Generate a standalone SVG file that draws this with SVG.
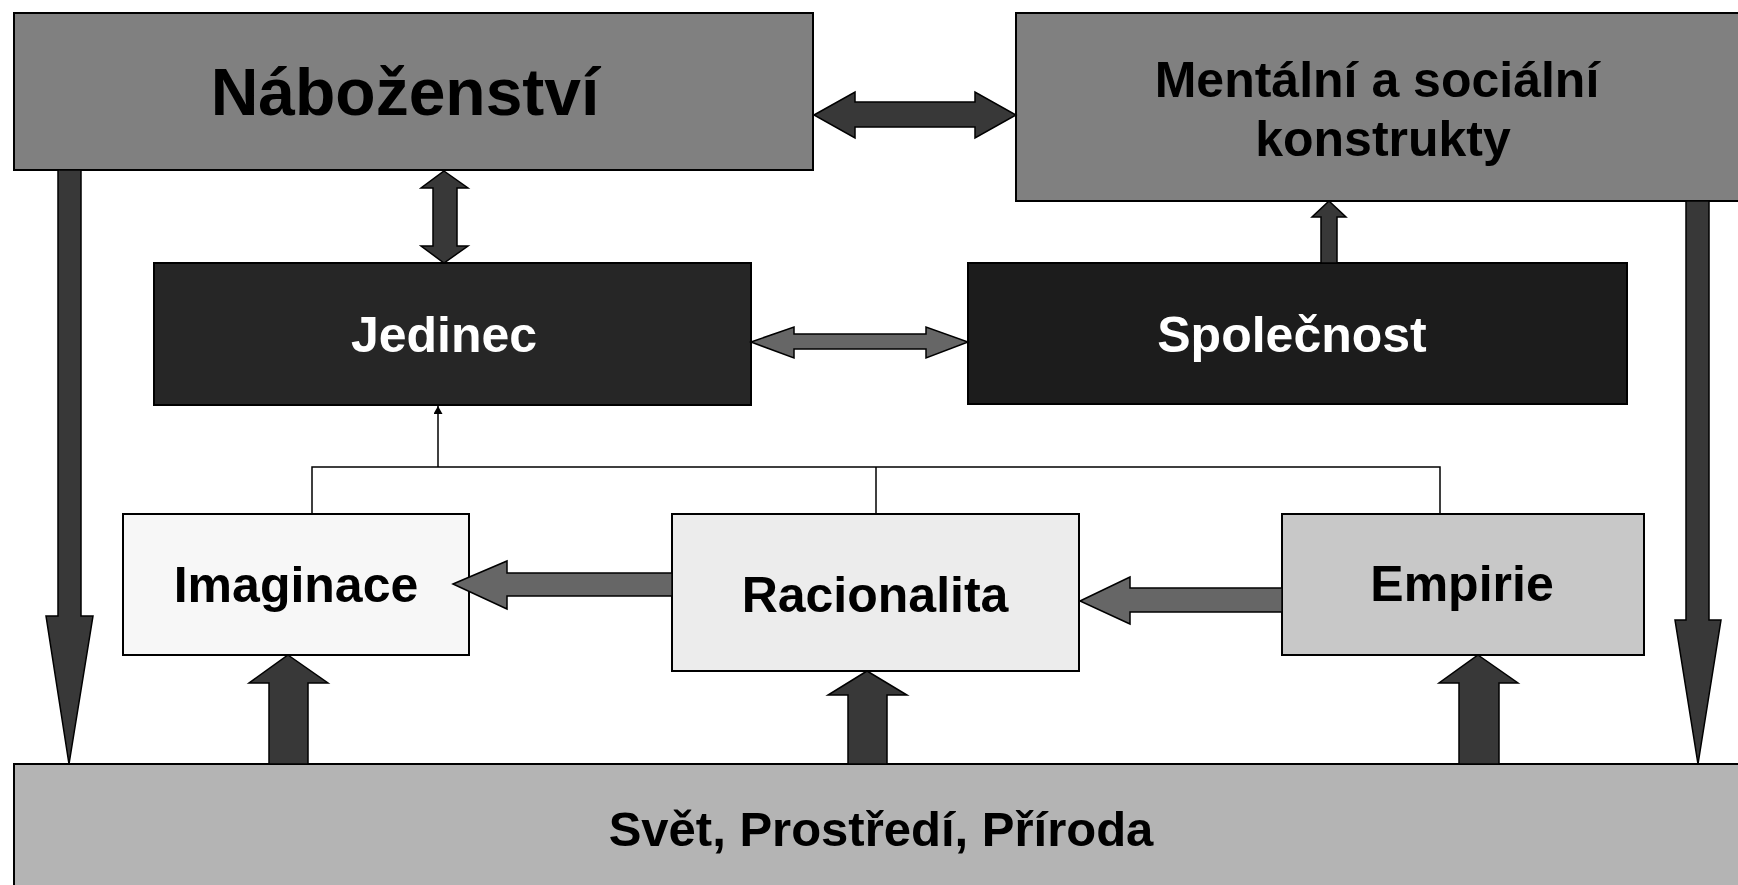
<svg xmlns="http://www.w3.org/2000/svg" width="1738" height="885" viewBox="0 0 1738 885">
<style>
.box{stroke:#000;stroke-width:2}
.t{font-family:"Liberation Sans",Arial,sans-serif;font-weight:bold;text-anchor:middle}
.dk{fill:#383838;stroke:#000;stroke-width:1.5;stroke-linejoin:miter}
.md{fill:#666;stroke:#000;stroke-width:1.5}
.ln{fill:none;stroke:#000;stroke-width:1.5}
</style>
<defs>
<marker id="ah" viewBox="0 0 10 10" refX="10" refY="5" markerWidth="8" markerHeight="9" markerUnits="userSpaceOnUse" orient="auto" preserveAspectRatio="none">
<path d="M0,0 L10,5 L0,10 Z" fill="#000"/>
</marker>
</defs>
<rect width="1738" height="885" fill="#fff"/>
<g id="nabozenstvi"><rect class="box" x="14" y="13" width="799" height="157" fill="#808080"/><text class="t" x="405" y="115" font-size="66">Náboženství</text></g>
<g id="mentalni"><rect class="box" x="1016" y="13" width="730" height="188" fill="#808080"/><text class="t" x="1377" y="97" font-size="50">Mentální a sociální</text><text class="t" x="1383" y="156" font-size="50">konstrukty</text></g>
<g id="jedinec"><rect class="box" x="154" y="263" width="597" height="142" fill="#262626"/><text class="t" x="444" y="352" font-size="50" fill="#fff">Jedinec</text></g>
<g id="spolecnost"><rect class="box" x="968" y="263" width="659" height="141" fill="#1c1c1c"/><text class="t" x="1292" y="352" font-size="50" fill="#fff">Společnost</text></g>
<g id="imaginace"><rect class="box" x="123" y="514" width="346" height="141" fill="#f7f7f7"/><text class="t" x="296" y="602" font-size="50">Imaginace</text></g>
<g id="racionalita"><rect class="box" x="672" y="514" width="407" height="157" fill="#ececec"/><text class="t" x="875" y="612" font-size="50">Racionalita</text></g>
<g id="empirie"><rect class="box" x="1282" y="514" width="362" height="141" fill="#c8c8c8"/><text class="t" x="1462" y="601" font-size="50">Empirie</text></g>
<g id="svet"><rect class="box" x="14" y="764" width="1740" height="140" fill="#b4b4b4"/><text class="t" x="881" y="846" font-size="49">Svět, Prostředí, Příroda</text></g>
<g id="connectors">
<polygon class="dk" points="814,115 855,92 855,102 975,102 975,92 1016,115 975,138 975,127 855,127 855,138"/>
<polygon class="dk" points="444,171 468,188 457,188 457,246 468,246 444,263 421,246 433,246 433,188 421,188"/>
<polygon class="md" points="751,342 794,327 794,334 926,334 926,327 968,342 926,358 926,349 794,349 794,358"/>
<polygon class="dk" points="1329,201 1346,217 1337,217 1337,263 1321,263 1321,217 1312,217"/>
<polygon class="dk" points="58,170 81,170 81,616 93,616 69,764 46,616 58,616"/>
<polygon class="dk" points="1686,201 1709,201 1709,620 1721,620 1698,764 1675,620 1686,620"/>
<polygon class="dk" points="288,655 328,683 308,683 308,764 269,764 269,683 249,683"/>
<polygon class="dk" points="867,671 907,695 887,695 887,764 848,764 848,695 828,695"/>
<polygon class="dk" points="1478,655 1518,683 1499,683 1499,764 1459,764 1459,683 1439,683"/>
<polygon class="md" points="453,584 507,561 507,573 672,573 672,596 507,596 507,609"/>
<polygon class="md" points="1080,601 1130,577 1130,588 1282,588 1282,612 1130,612 1130,624"/>
<polyline class="ln" points="312,514 312,467 1440,467 1440,514"/>
<line class="ln" x1="876" y1="467" x2="876" y2="514"/>
<line class="ln" x1="438" y1="467" x2="438" y2="406" marker-end="url(#ah)"/>
</g>
</svg>
